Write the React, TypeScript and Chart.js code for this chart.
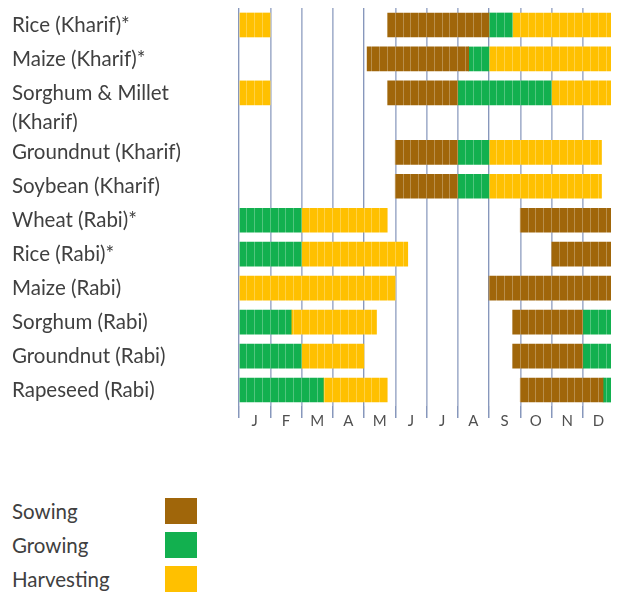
import { useEffect, useRef } from 'react';
import { Chart, registerables } from 'chart.js';

Chart.register(...registerables);

const MONTHS = ['J', 'F', 'M', 'A', 'M', 'J', 'J', 'A', 'S', 'O', 'N', 'D'];

const CROPS = [
  'Rice (Kharif)*',
  'Maize (Kharif)*',
  'Sorghum & Millet',
  'Groundnut (Kharif)',
  'Soybean (Kharif)',
  'Wheat (Rabi)*',
  'Rice (Rabi)*',
  'Maize (Rabi)',
  'Sorghum (Rabi)',
  'Groundnut (Rabi)',
  'Rapeseed (Rabi)',
];
// row index of each crop on the y scale (the wrapped "(Kharif)" line takes part of a row)
const ROW_VALUES = [0, 1, 2, 3.75, 4.75, 5.75, 6.75, 7.75, 8.75, 9.75, 10.75];
const WRAP_LABEL = '(Kharif)';
const WRAP_VALUE = 2.87;

const PHASES = ['Sowing', 'Growing', 'Harvesting'];
const PHASE_COLORS = ['#A0660A', '#12B04F', '#FFC000'];

type Span = [number, number] | null;
// values in months from 1 January (0) to 31 December (12)
const SOWING: Span[] = [
  [4.75, 8], [4.1, 7.35], [4.75, 7], [5, 7], [5, 7],
  [9, 12], [10, 12], [8, 12], [8.75, 11], [8.75, 11], [9, 11.65],
];
const GROWING: Span[] = [
  [8, 8.75], [7.35, 8], [7, 10], [7, 8], [7, 8],
  [0, 2], [0, 2], null, [0, 1.67], [0, 2], [0, 2.7],
];
const GROWING_LATE: Span[] = [
  null, null, null, null, null,
  null, null, null, [11, 12], [11, 12], [11.65, 12],
];
const HARVEST_EARLY: Span[] = [
  [0, 1], null, [0, 1], null, null,
  [2, 4.75], [2, 5.4], [0, 5], [1.67, 4.4], [2, 4], [2.7, 4.75],
];
const HARVEST_LATE: Span[] = [
  [8.75, 12], [8, 12], [10, 12], [8, 11.6], [8, 11.6],
  null, null, null, null, null, null,
];

const SERIES: { label: string; phase: number; spans: Span[] }[] = [
  { label: 'Sowing', phase: 0, spans: SOWING },
  { label: 'Growing', phase: 1, spans: GROWING },
  { label: 'Growing (late)', phase: 1, spans: GROWING_LATE },
  { label: 'Harvesting (early)', phase: 2, spans: HARVEST_EARLY },
  { label: 'Harvesting (late)', phase: 2, spans: HARVEST_LATE },
];

const FONT = 'Lato';
const TEXT_COLOR = '#404040';

export default function App() {
  const ref = useRef<HTMLCanvasElement | null>(null);

  useEffect(() => {
    if (!ref.current) return;
    const yTicks = [...ROW_VALUES.slice(0, 3), WRAP_VALUE, ...ROW_VALUES.slice(3)];
    const yLabels = [...CROPS.slice(0, 3), WRAP_LABEL, ...CROPS.slice(3)];

    const chart = new Chart(ref.current, {
      type: 'bar',
      data: {
        datasets: SERIES.map((s) => ({
          label: s.label,
          data: s.spans
            .map((sp, i) => (sp ? { x: sp, y: ROW_VALUES[i] } : null))
            .filter((d) => d !== null) as any,
          backgroundColor: PHASE_COLORS[s.phase],
          borderWidth: 0,
          barThickness: 24,
          grouped: false,
        })),
      },
      options: {
        indexAxis: 'y',
        responsive: false,
        animation: false,
        layout: { padding: { left: 4, right: 0, top: 0, bottom: 0 } },
        plugins: { legend: { display: false }, tooltip: { enabled: false } },
        scales: {
          y: {
            type: 'linear',
            reverse: true,
            offset: false,
            min: -0.5,
            max: 11.22,
            afterBuildTicks: (scale: any) => {
              scale.ticks = yTicks.map((v) => ({ value: v }));
            },
            afterFit: (scale: any) => {
              scale.width = 227;
              scale.paddingTop = 0;
              scale.paddingBottom = 0;
            },
            grid: { display: false, offset: false },
            border: { display: false },
            ticks: {
              autoSkip: false,
              crossAlign: 'far',
              color: TEXT_COLOR,
              font: { family: FONT, size: 20.5 },
              callback: (_v: any, i: number) => yLabels[i],
            },
          },
          x: {
            type: 'linear',
            position: 'bottom',
            offset: false,
            min: 0,
            max: 12,
            afterBuildTicks: (scale: any) => {
              const t = [];
              for (let k = 0; k <= 24; k++) t.push({ value: k / 2 });
              scale.ticks = t;
            },
            afterFit: (scale: any) => {
              scale.height = 32;
              scale.paddingLeft = 0;
              scale.paddingRight = 0;
            },
            border: { display: false },
            grid: {
              color: (ctx: any) =>
                ctx.tick && ctx.tick.value % 1 === 0 ? '#8797BC' : 'rgba(0,0,0,0)',
              lineWidth: 1.5,
              drawTicks: true,
              tickLength: 12,
            },
            ticks: {
              autoSkip: false,
              maxRotation: 0,
              padding: -6,
              color: '#505050',
              font: { family: FONT, size: 15 },
              callback: (v: any) => (v % 1 === 0.5 ? MONTHS[Math.floor(v)] : ''),
            },
          },
          x2: {
            type: 'linear',
            position: 'top',
            offset: false,
            min: 0,
            max: 12,
            afterBuildTicks: (scale: any) => {
              const t = [];
              for (let k = 0; k <= 48; k++) t.push({ value: k / 4 });
              scale.ticks = t;
            },
            afterFit: (scale: any) => {
              scale.height = 0;
              scale.paddingLeft = 0;
              scale.paddingRight = 0;
            },
            border: { display: false },
            grid: {
              color: 'rgba(255,255,255,0.27)',
              lineWidth: 1,
              drawTicks: false,
              z: 1,
            },
            ticks: { display: false },
          },
        },
      } as any,
    });
    return () => chart.destroy();
  }, []);

  return (
    <div>
      <div style={{ width: 606, height: 430 }}>
        <canvas ref={ref} width={606} height={430} style={{ display: 'block' }} />
      </div>
      <div style={{ marginTop: 60 }}>
        {PHASES.map((p, i) => (
          <div key={p} style={{ display: 'flex', alignItems: 'center', height: 26, marginBottom: 8 }}>
            <span
              style={{
                width: 153,
                paddingLeft: 4,
                fontFamily: FONT,
                fontSize: 20.5,
                color: TEXT_COLOR,
              }}
            >
              {p}
            </span>
            <span style={{ width: 32, height: 26, background: PHASE_COLORS[i] }} />
          </div>
        ))}
      </div>
    </div>
  );
}
